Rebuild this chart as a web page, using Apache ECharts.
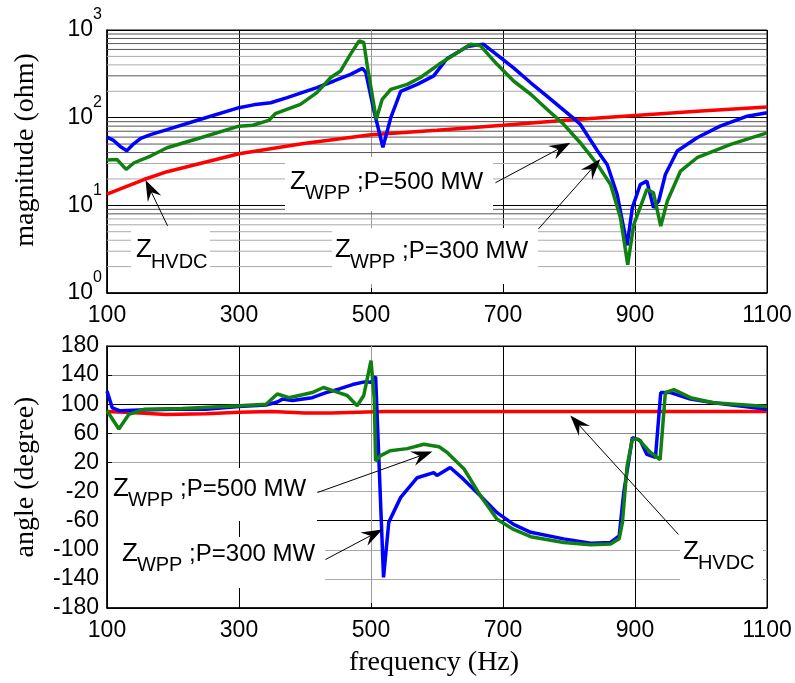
<!DOCTYPE html>
<html><head><meta charset="utf-8">
<script src="https://cdn.jsdelivr.net/npm/echarts@6/dist/echarts.min.js"></script>
<style>html,body{margin:0;padding:0;background:#fff}#c{width:795px;height:683px}</style>
</head><body><div id="c"></div>
<script>
// ---------- data ----------
const freqTicks = [100, 300, 500, 700, 900, 1100];
const magTicks = [1, 10, 100, 1000];
const angleTicks = [-180, -140, -100, -60, -20, 20, 60, 100, 140, 180];
const magMinorLines = [2,3,4,5,6,7,8,9,20,30,40,50,60,70,80,90,200,300,400,500,600,700,800,900];

// Z_WPP, P=300 MW (blue) magnitude
const blueMagF = [100,103,110,120,130,140,151,166,191,242,300,322,348,373,418,444,469,487,492,504,518,530,545,570,595,615,646,670,691,716,742,767,792,807,817,843,858,873,888,896,908,918,928,936,946,964,994,1029,1070,1100];
const blueMagV = [60,62,55,47,42,50,58,64,73,96,130,140,148,169,220,262,312,365,330,124,46,100,200,240,300,470,650,690,520,370,250,175,122,98,84,42,29,13.3,3.5,9.4,17.3,18.9,9.4,11.2,22.5,41.6,59,80,104,114];
// Z_WPP, P=500 MW (green) magnitude
const greenMagF = [100,103,115,129,141,166,191,242,300,321,345,355,393,418,439,454,469,482,489,494,508,517,530,555,575,603,615,651,666,691,716,742,767,792,817,843,863,878,889,898,918,928,939,949,969,994,1045,1100];
const greenMagV = [33,33.4,33.4,25.7,30.6,36.5,45.4,59,80,82,93,111,142,193,287,341,530,752,720,406,96,162,210,240,287,406,464,688,660,406,262,185,124,84,51.8,29.3,17.3,7.2,2.1,6.0,15.2,13.9,5.8,11.2,24.6,34.9,49.5,67];
// Z_HVDC (red) magnitude
const redMagF = [100,156,191,300,398,500,600,700,800,900,1000,1100];
const redMagV = [13.4,19.7,24.2,38.8,50.8,64,72,82,94,106,119,132];

// angles
const blueAngF = [100,108,120,150,200,250,300,341,358,366,381,411,432,452,472,492,500,507,510,519,527,545,570,595,600,620,640,666,691,716,742,792,833,863,876,883,896,908,918,931,939,954,984,1019,1100];
const blueAngV = [118,95,91,92,93,93,97,99,103,107,105,109,116,121,127,131,130,138,140,-138,-62,-28,-1,6,2,13,-3,-26,-49,-65,-76,-85,-91,-90,-81,-21,54,50,31,27,116,116,107,102,93];
const greenAngF = [100,118,133,156,214,300,341,358,376,411,428,451,464,479,489,500,505,507,514,529,555,580,603,615,641,666,691,716,742,792,833,863,876,881,888,896,905,923,938,946,959,984,1019,1100];
const greenAngV = [91,66,86,93,94,98,100,114,109,116,123,116,112,98,112,160,107,22,29,36,39,45,41.5,34,11,-26,-58,-72,-82,-90,-93,-92,-85,-62,15,52,52,34,24,116,120,109,102,97];
const redAngF = [100,150,190,250,300,350,400,440,480,520,600,700,800,900,1000,1100];
const redAngV = [90,88,86,87,89,90,88,88,89,90,90,90,90,90,90,90];

// annotation arrows: [grid, tailFreq, tailValue, tipFreq, tipValue]
const arrows = [
  [0, 688.6, 18.1, 802, 51.8],
  [0, 753.7, 5.38, 847.6, 33.7],
  [0, 191.7, 5.84, 158.3, 19.5],
  [1, 418.9, -21.3, 593, 35],
  [1, 431, -113.4, 517.4, -72],
  [1, 965.9, -79, 802, 84.5]
];

// ---------- chart ----------
const SANS = 'Liberation Sans, Arial, sans-serif';
const SERIF = 'Liberation Serif, Times New Roman, serif';
const pairs = (xs, ys) => xs.map((x, i) => [x, ys[i]]);
const chart = echarts.init(document.getElementById('c'));

function xAxis(gi, colors) {
  return {
    type: 'value', gridIndex: gi, min: freqTicks[0], max: freqTicks[freqTicks.length - 1], interval: 200,
    axisLine: { show: true, onZero: false, lineStyle: { color: '#000', width: 1.5 } },
    axisTick: { show: true, inside: true, length: 5, lineStyle: { color: '#000' } },
    axisLabel: { fontFamily: SANS, fontSize: 23, color: '#000', margin: 11, formatter: v => String(v) },
    splitLine: { show: true, lineStyle: { color: colors, width: 1 } }
  };
}
const lightMinor = v => {
  const m = v / Math.pow(10, Math.floor(Math.log10(v) + 1e-9));
  if (v < 10) return m <= 7;
  if (v < 100) return m <= 3;
  return m === 2 || m === 4 || m === 5;
};
const minorSeries = magMinorLines.map(v => ({
  type: 'line', xAxisIndex: 0, yAxisIndex: 0, silent: true, symbol: 'none', z: 1,
  data: [[freqTicks[0], v], [freqTicks[freqTicks.length - 1], v]],
  lineStyle: { color: lightMinor(v) ? '#aaa' : '#555', width: 1 }
}));
function curve(name, xi, data, color) {
  return { name, type: 'line', xAxisIndex: xi, yAxisIndex: xi, data, symbol: 'none', z: 3,
    lineStyle: { color, width: 3.5 }, itemStyle: { color } };
}

const option = {
  animation: false,
  backgroundColor: '#fff',
  textStyle: { fontFamily: SANS },
  grid: [
    { left: 107, top: 30, width: 660, height: 263, show: true, borderColor: '#000', borderWidth: 1, containLabel: false, outerBoundsMode: 'none' },
    { left: 107, top: 346, width: 660, height: 262, show: true, borderColor: '#000', borderWidth: 1, containLabel: false, outerBoundsMode: 'none' }
  ],
  xAxis: [
    xAxis(0, ['#000', '#000', '#999', '#000', '#000', '#000']),
    xAxis(1, ['#000', '#000', '#999', '#000', '#000', '#000'])
  ],
  yAxis: [
    { type: 'log', gridIndex: 0, logBase: 10, min: magTicks[0], max: magTicks[magTicks.length - 1],
      axisLine: { show: true, lineStyle: { color: '#000', width: 1.5 } },
      axisTick: { show: true, inside: true, length: 5, lineStyle: { color: '#000' } },
      axisLabel: { margin: 5,
        formatter: v => '{b|10}{s|' + Math.round(Math.log10(v)) + '}',
        rich: {
          b: { fontFamily: SANS, fontSize: 23, color: '#000', lineHeight: 46, verticalAlign: 'middle' },
          s: { fontFamily: SANS, fontSize: 16, color: '#000', lineHeight: 14, verticalAlign: 'top' }
        } },
      splitLine: { show: true, lineStyle: { color: '#000', width: 1 } } },
    { type: 'value', gridIndex: 1, min: angleTicks[0], max: angleTicks[angleTicks.length - 1], interval: 40,
      axisLine: { show: true, lineStyle: { color: '#000', width: 1.5 } },
      axisTick: { show: true, inside: true, length: 5, lineStyle: { color: '#000' } },
      axisLabel: { fontFamily: SANS, fontSize: 23, color: '#000', margin: 8 },
      splitLine: { show: true, lineStyle: { color: ['#000', '#aaa', '#aaa', '#000', '#aaa', '#aaa', '#888', '#000', '#888', '#000'], width: 1 } } }
  ],
  series: [
    ...minorSeries,
    curve('Z_HVDC', 0, pairs(redMagF, redMagV), '#ff0000'),
    curve('Z_WPP;P=300 MW', 0, pairs(blueMagF, blueMagV), '#0000ff'),
    curve('Z_WPP;P=500 MW', 0, pairs(greenMagF, greenMagV), '#108010'),
    curve('Z_HVDC', 1, pairs(redAngF, redAngV), '#ff0000'),
    curve('Z_WPP;P=300 MW', 1, pairs(blueAngF, blueAngV), '#0000ff'),
    curve('Z_WPP;P=500 MW', 1, pairs(greenAngF, greenAngV), '#108010')
  ]
};
chart.setOption(option);

// ---------- annotations ----------
const g = [];
const mctx = document.createElement('canvas').getContext('2d');
const textW = (txt, size) => { mctx.font = size + 'px ' + SANS; return mctx.measureText(txt).width; };
// [rectX, rectY, rectW, rectH, textX, zCenterY, sub, rest]
const boxes = [
  [285, 157, 208, 54, 290, 181.5, 'WPP', ' ;P=500 MW'],
  [332, 228, 206, 56, 335, 250, 'WPP', ' ;P=300 MW'],
  [131, 228, 79, 56, 136, 250, 'HVDC', ''],
  [108, 468, 209, 53, 113, 488.5, 'WPP', ' ;P=500 MW'],
  [108, 537, 217, 51, 122, 553.5, 'WPP', ' ;P=300 MW'],
  [680, 535, 83, 51, 683, 551.5, 'HVDC', '']
];
const ZS = 26, SS = 20, TS = 24;
boxes.forEach(b => {
  g.push({ type: 'rect', z: 20, silent: true, shape: { x: b[0], y: b[1], width: b[2], height: b[3] }, style: { fill: '#fff' } });
  const x0 = b[4], yc = b[5];
  const wz = textW('Z', ZS), ws = textW(b[6], SS);
  g.push({ type: 'text', z: 21, silent: true, x: x0, y: yc, style: { text: 'Z', fontFamily: SANS, fontSize: ZS, fill: '#000', align: 'left', verticalAlign: 'middle' } });
  g.push({ type: 'text', z: 21, silent: true, x: x0 + wz - 1, y: yc + 12, style: { text: b[6], fontFamily: SANS, fontSize: SS, fill: '#000', align: 'left', verticalAlign: 'middle' } });
  if (b[7]) g.push({ type: 'text', z: 21, silent: true, x: x0 + wz - 1 + ws, y: yc + 1, style: { text: b[7], fontFamily: SANS, fontSize: TS, fill: '#000', align: 'left', verticalAlign: 'middle' } });
});
arrows.forEach(a => {
  const p0 = chart.convertToPixel({ gridIndex: a[0] }, [a[1], a[2]]);
  const p1 = chart.convertToPixel({ gridIndex: a[0] }, [a[3], a[4]]);
  const dx = p1[0] - p0[0], dy = p1[1] - p0[1];
  const len = Math.sqrt(dx * dx + dy * dy);
  const ux = dx / len, uy = dy / len, nx = -uy, ny = ux;
  const L = 21, W = 7.5, N = 0.65 * L;
  const bx = p1[0] - L * ux, by = p1[1] - L * uy;
  const cx = p1[0] - N * ux, cy = p1[1] - N * uy;
  g.push({ type: 'line', z: 22, silent: true, shape: { x1: p0[0], y1: p0[1], x2: cx, y2: cy }, style: { stroke: '#000', lineWidth: 1 } });
  g.push({ type: 'polygon', z: 22, silent: true,
    shape: { points: [[p1[0], p1[1]], [bx + W * nx, by + W * ny], [cx, cy], [bx - W * nx, by - W * ny]] },
    style: { fill: '#000' } });
});
// axis names
g.push({ type: 'text', z: 21, x: 26, y: 150, rotation: Math.PI / 2, style: { text: 'magnitude (ohm)', fontFamily: SERIF, fontSize: 28, fill: '#000', align: 'center', verticalAlign: 'middle' } });
g.push({ type: 'text', z: 21, x: 26, y: 477, rotation: Math.PI / 2, style: { text: 'angle (degree)', fontFamily: SERIF, fontSize: 28, fill: '#000', align: 'center', verticalAlign: 'middle' } });
g.push({ type: 'text', z: 21, x: 434, y: 663, style: { text: 'frequency (Hz)', fontFamily: SERIF, fontSize: 28, fill: '#000', align: 'center', verticalAlign: 'middle' } });
chart.setOption({ graphic: g });
</script>
</body></html>
